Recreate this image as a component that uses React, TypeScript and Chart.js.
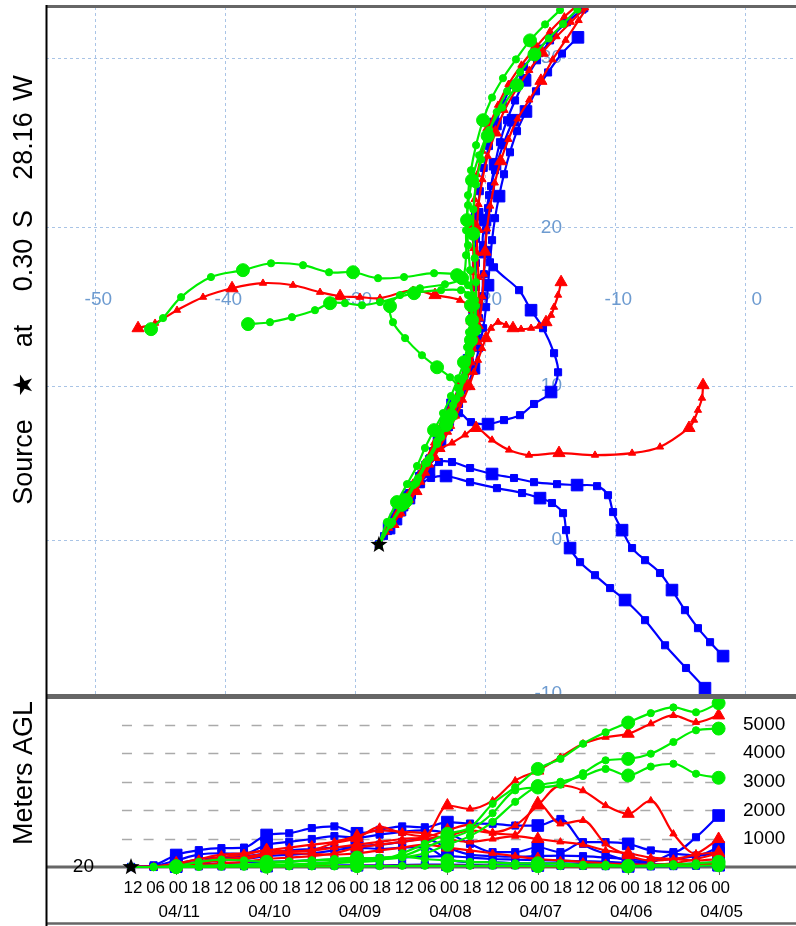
import React, { useEffect, useRef } from "react";
import { Chart, registerables } from "chart.js";
Chart.register(...registerables);

// ---------- source / axes ----------
const SOURCE_LON = -28.16;
const SOURCE_LAT = -0.3;
const SOURCE_HGT = 20;
const STEP_HOURS = 6;

const LON_GRID = [-50, -40, -30, -20, -10, 0];
const LAT_GRID = [-10, 0, 10, 20, 30];
const HEIGHT_TICKS = [1000, 2000, 3000, 4000, 5000];
const HOUR_LABELS = ["12","06","00","18","12","06","00","18","12","06","00","18","12","06","00","18","12","06","00","18","12","06","00","18","12","06","00"];
const DATE_LABELS = ["04/11", "04/10", "04/09", "04/08", "04/07", "04/06", "04/05"];
const DATE_TICK_INDEX = [2, 6, 10, 14, 18, 22, 26];

// ---------- trajectories (lon, lat, height AGL every 6 h backward) ----------
// green
const lonG1 = [-28.16,-27.15,-26.08,-25.23,-24.38,-23.62,-22.92,-22.31,-21.77,-21.38,-21.08,-20.85,-20.77,-21.31,-22.15,-23.92,-26.23,-28.23,-30.15,-32.0,-34.0,-36.46,-38.62,-41.08,-43.38,-44.77,-45.69];
const latG1 = [-0.3,1.18,2.55,3.91,5.22,6.52,7.81,9.1,10.38,11.66,12.94,14.21,15.47,16.41,17.04,17.16,16.92,16.85,17.22,17.22,17.66,17.78,17.35,16.92,15.66,14.34,13.64];
const hgtG1 = [20,20,50,200,280,250,200,220,250,280,300,350,380,300,250,200,180,150,150,150,100,100,60,80,120,150,200];

const lonG2 = [-28.16,-27.54,-26.77,-26.0,-25.23,-24.62,-23.92,-23.23,-22.62,-22.08,-21.62,-21.38,-21.23,-21.08,-21.08,-21.31,-21.85,-23.38,-25.46,-28.08,-29.46,-30.77,-31.92,-33.08,-34.85,-36.54,-38.23];
const latG2 = [-0.3,1.18,2.48,3.65,4.83,6.0,7.16,8.26,9.36,10.5,11.53,12.49,13.45,14.34,15.15,15.79,16.1,16.1,15.91,15.35,15.15,15.28,15.28,14.84,14.4,14.08,13.96];
const hgtG2 = [20,20,20,20,30,30,30,40,40,40,50,50,60,60,60,60,60,60,50,50,50,40,40,40,50,60,80];

const lonG3 = [-28.16,-27.23,-26.23,-25.31,-24.46,-23.69,-23.0,-22.46,-22.08,-22.69,-23.69,-24.85,-26.15,-27.08,-27.31,-26.54,-25.0,-23.08,-21.77,-21.46,-21.46,-21.31,-21.0,-20.46,-19.69,-18.69,-17.54];
const latG3 = [-0.3,1.11,2.42,3.72,5.03,6.26,7.49,8.78,9.87,10.57,11.21,11.98,13.07,14.08,15.09,15.79,16.22,16.47,16.85,18.28,19.82,21.35,22.86,24.35,25.84,27.16,28.45];
const hgtG3 = [20,20,30,50,80,100,150,200,250,300,350,300,350,500,800,1100,1600,2300,2850,3000,3200,3450,3220,3530,3630,3280,3140];

const lonGN1 = [-28.16,-27.15,-26.15,-25.15,-24.23,-23.38,-22.62,-21.92,-21.46,-21.15,-21.0,-21.0,-21.15,-21.31,-21.38,-21.31,-21.08,-20.69,-20.15,-19.46,-18.62,-17.62,-16.54,-15.38,-14.23,-13.08,-11.92];
const latGN1 = [-0.3,1.18,2.61,4.04,5.35,6.71,8.13,9.55,11.02,12.62,14.21,15.79,17.35,18.9,20.44,21.96,23.46,24.95,26.42,27.74,28.85,29.92,30.99,31.88,32.67,33.5,34.3];
const hgtGN1 = [20,20,30,40,50,60,80,100,120,150,200,250,500,830,1180,1400,2230,2810,3450,3800,4330,4730,5070,5400,5600,5430,5750];

const lonGN2 = [-28.16,-27.3,-26.4,-25.5,-24.6,-23.7,-22.9,-22.2,-21.6,-21.1,-20.8,-20.7,-20.7,-20.8,-20.9,-20.9,-20.7,-20.3,-19.8,-19.1,-18.3,-17.3,-16.2,-15.1,-14.0,-12.9,-11.8];
const latGN2 = [-0.3,1.0,2.3,3.6,5.0,6.4,7.8,9.2,10.6,12.1,13.6,15.1,16.6,18.1,19.6,21.1,22.6,24.1,25.5,26.9,28.1,29.2,30.2,31.1,31.9,32.7,33.4];
const hgtGN2 = [20,20,30,40,50,60,80,100,150,200,250,300,400,700,1000,1300,1900,2700,2800,2900,3300,3750,3800,3980,4390,4800,4860];

// red
const lonR1 = [-28.16,-27.31,-26.38,-25.54,-24.69,-23.92,-23.15,-22.46,-21.92,-21.46,-21.15,-20.92,-21.0,-21.92,-23.85,-25.54,-28.08,-29.62,-31.15,-32.69,-34.77,-37.08,-39.46,-41.69,-43.69,-45.38,-46.69];
const latR1 = [-0.3,1.11,2.42,3.72,5.03,6.33,7.62,8.91,10.19,11.47,12.75,13.89,14.84,15.47,15.79,16.1,15.6,15.66,15.72,15.97,16.41,16.54,16.22,15.66,14.84,14.02,13.7];
const hgtR1 = [20,20,20,30,30,40,40,50,50,50,60,60,60,70,70,60,60,50,50,40,40,40,50,60,80,100,150];

const lonR2 = [-28.16,-27.38,-26.62,-25.85,-25.08,-24.31,-23.54,-22.85,-22.23,-21.69,-21.23,-20.85,-20.54,-20.23,-19.92,-19.54,-19.0,-18.38,-17.85,-17.23,-16.46,-15.85,-15.31,-14.92,-14.69,-14.38,-14.15];
const latR2 = [-0.3,0.78,1.83,2.87,3.91,4.96,6.0,7.03,8.07,9.1,10.0,10.89,11.66,12.42,13.07,13.7,14.08,13.89,13.7,13.64,13.7,13.83,14.08,14.52,15.03,15.79,16.6];
const hgtR2 = [20,20,40,80,150,200,300,350,400,500,700,800,900,1000,1100,1300,1200,1150,2250,1530,1650,830,430,245,300,480,1000];

const lonR3 = [-28.16,-27.62,-27.08,-26.62,-26.23,-25.77,-25.31,-24.92,-24.54,-24.23,-23.92,-23.46,-22.54,-21.54,-20.69,-19.46,-18.15,-16.62,-14.31,-11.54,-8.69,-6.54,-4.31,-3.92,-3.62,-3.31,-3.23];
const latR3 = [-0.3,0.52,1.05,1.63,2.22,2.61,3.2,3.78,4.37,4.9,5.42,5.94,6.33,6.85,7.3,6.52,5.87,5.54,5.67,5.54,5.67,6.07,7.3,7.81,8.45,9.23,10.06];
const hgtR3 = [20,30,80,150,300,350,500,550,600,700,800,900,1000,1060,1300,1500,1240,1470,2170,2870,2690,2170,1880,2340,1180,480,530];

const lonRN1 = [-28.16,-27.2,-26.2,-25.2,-24.3,-23.4,-22.6,-21.9,-21.3,-20.9,-20.6,-20.5,-20.5,-20.6,-20.6,-20.5,-20.2,-19.8,-19.2,-18.5,-17.6,-16.6,-15.6,-14.5,-13.4,-12.3,-11.2];
const latRN1 = [-0.3,1.1,2.5,3.9,5.3,6.7,8.1,9.5,10.9,12.4,13.9,15.4,16.9,18.4,19.9,21.4,22.9,24.3,25.7,27.0,28.2,29.3,30.3,31.2,32.0,32.8,33.5];
const hgtRN1 = [20,30,100,200,380,440,610,560,610,860,1030,1420,1200,1100,2170,2050,2340,3040,3390,3860,4330,4560,4680,5030,5320,5080,5320];

const lonRN2 = [-28.16,-27.1,-26.0,-25.0,-24.1,-23.3,-22.6,-22.0,-21.5,-21.2,-21.0,-20.9,-20.9,-20.9,-20.9,-20.8,-20.6,-20.2,-19.7,-19.0,-18.2,-17.2,-16.1,-15.0,-13.9,-12.8,-11.7];
const latRN2 = [-0.3,1.2,2.7,4.2,5.7,7.1,8.5,9.9,11.3,12.7,14.2,15.7,17.2,18.7,20.2,21.7,23.2,24.6,26.0,27.3,28.5,29.6,30.6,31.5,32.3,33.0,33.7];
const hgtRN2 = [20,20,60,150,250,300,450,500,480,450,500,600,700,800,700,600,500,400,300,250,200,150,120,100,150,300,500];

const lonRN3 = [-28.16,-27.25,-26.3,-25.35,-24.45,-23.6,-22.8,-22.1,-21.5,-21.05,-20.7,-20.4,-20.2,-20.1,-20.0,-19.85,-19.6,-19.25,-18.8,-18.2,-17.5,-16.6,-15.7,-14.8,-13.8,-12.8,-11.8];
const latRN3 = [-0.3,1.0,2.3,3.6,4.9,6.2,7.5,8.8,10.1,11.5,12.9,14.3,15.7,17.1,18.5,19.9,21.3,22.7,24.0,25.3,26.5,27.6,28.7,29.9,31.0,32.1,33.2];
const hgtRN3 = [20,40,150,300,450,500,600,700,800,900,1100,1300,1250,1200,1000,900,1000,1100,1000,900,800,600,500,350,300,250,300];

// blue
const lonB1 = [-28.16,-27.46,-26.85,-26.23,-25.62,-25.0,-24.31,-23.54,-22.54,-21.15,-19.46,-17.77,-16.23,-14.46,-12.92,-11.38,-10.54,-10.15,-9.46,-8.69,-7.69,-6.54,-5.62,-4.62,-3.62,-2.69,-1.69];
const latB1 = [-0.3,0.59,1.37,2.15,2.93,3.65,4.44,5.09,5.09,4.7,4.31,4.05,3.78,3.65,3.59,3.52,2.93,1.83,0.65,-0.52,-1.31,-2.15,-3.26,-4.57,-5.74,-6.65,-7.55];
const hgtB1 = [20,30,100,200,250,300,400,450,500,600,700,650,700,710,300,190,190,150,150,150,140,120,100,100,100,150,190];

const lonB2 = [-28.16,-27.77,-27.38,-27.0,-26.62,-26.23,-25.85,-25.38,-24.92,-24.15,-23.0,-21.15,-19.08,-17.15,-15.77,-14.85,-14.0,-13.77,-13.46,-12.69,-11.54,-10.38,-9.23,-7.69,-6.15,-4.54,-3.08];
const latB2 = [-0.3,0.26,0.78,1.31,1.83,2.29,2.74,3.26,3.65,4.05,4.18,3.78,3.39,3.07,2.74,2.42,1.76,0.65,-0.52,-1.44,-2.29,-3.13,-3.91,-5.22,-6.85,-8.32,-9.62];
const hgtB2 = [20,20,30,40,40,50,50,60,60,70,80,80,90,100,100,90,80,80,70,60,60,50,40,40,50,60,80];

const lonB3 = [-28.16,-27.38,-26.62,-25.85,-25.08,-24.31,-23.54,-22.77,-22.0,-21.08,-19.77,-18.54,-17.31,-16.23,-14.92,-14.38,-14.69,-15.54,-16.46,-17.38,-19.31,-20.15,-20.0,-19.69,-19.23,-18.62,-17.85];
const latB3 = [-0.3,0.85,1.96,3.07,4.18,5.28,6.39,7.36,8.26,7.68,7.55,7.81,8.13,8.85,9.62,10.89,12.11,13.7,14.84,16.1,17.53,18.9,20.44,21.96,23.46,24.95,26.42];
const hgtB3 = [20,50,250,450,500,480,800,900,1000,1100,1050,1150,1250,1300,1200,830,540,540,710,540,890,890,830,600,540,1060,1820];

const lonBN1 = [-28.16,-27.31,-26.38,-25.46,-24.62,-23.77,-23.0,-22.31,-21.69,-21.15,-20.77,-20.46,-20.23,-20.08,-20.0,-19.92,-19.77,-19.54,-19.23,-18.85,-18.31,-17.69,-16.92,-16.0,-15.0,-13.85,-12.54];
const latBN1 = [-0.3,0.98,2.29,3.59,4.9,6.2,7.49,8.78,10.06,11.53,12.94,14.34,15.72,17.1,18.47,19.82,21.17,22.5,23.82,25.13,26.42,27.57,28.73,29.87,30.99,32.0,32.9];
const hgtBN1 = [20,80,440,610,680,700,1140,1200,1380,1440,1200,1320,1440,1410,1590,1540,1530,1470,1470,1700,830,480,245,190,480,420,710];

const lonBN2 = [-28.16,-27.0,-25.9,-24.9,-24.0,-23.2,-22.5,-21.9,-21.4,-21.0,-20.8,-20.7,-20.7,-20.7,-20.6,-20.4,-20.1,-19.7,-19.2,-18.6,-17.9,-17.0,-16.0,-14.9,-13.7,-12.5,-11.3];
const latBN2 = [-0.3,1.3,2.8,4.3,5.8,7.3,8.8,10.3,11.8,13.3,14.8,16.3,17.8,19.3,20.8,22.2,23.6,24.9,26.2,27.4,28.5,29.5,30.4,31.2,32.0,32.7,33.4];
const hgtBN2 = [20,30,120,300,350,400,500,600,650,700,750,800,900,1000,700,450,400,380,400,420,400,350,300,250,300,400,500];

const lonBN3 = [-28.16,-27.38,-26.54,-25.77,-25.0,-24.23,-23.46,-22.69,-22.0,-21.38,-20.85,-20.46,-20.15,-19.92,-19.77,-19.62,-19.46,-19.23,-18.92,-18.54,-18.08,-17.54,-16.85,-16.08,-15.15,-14.08,-12.85];
const latBN3 = [-0.3,0.85,1.96,3.07,4.18,5.35,6.52,7.68,8.85,10.0,11.15,12.43,13.7,15.03,16.41,17.84,19.21,20.56,21.9,23.22,24.53,25.78,26.93,28.1,29.18,30.25,31.16];
const hgtBN3 = [20,20,60,120,150,180,200,220,250,280,300,320,350,380,400,350,300,280,260,240,220,200,160,120,100,90,100];

// ---------- styles ----------
const RED = "#ff0000";
const BLUE = "#0000ff";
const GREEN = "#00ee00";
const GRID_BLUE = "#a9c4e6";
const LABEL_BLUE = "#6d9bd0";
const FRAME_GRAY = "#666666";
const FONT = '"Liberation Sans", Arial, Helvetica, sans-serif';

type Track = { lon: number[]; lat: number[]; hgt: number[]; color: string; style: string };
// index 0 is drawn on top
const TRACKS: Track[] = [
  { lon: lonGN1, lat: latGN1, hgt: hgtGN1, color: GREEN, style: "circle" },
  { lon: lonGN2, lat: latGN2, hgt: hgtGN2, color: GREEN, style: "circle" },
  { lon: lonG1, lat: latG1, hgt: hgtG1, color: GREEN, style: "circle" },
  { lon: lonG2, lat: latG2, hgt: hgtG2, color: GREEN, style: "circle" },
  { lon: lonG3, lat: latG3, hgt: hgtG3, color: GREEN, style: "circle" },
  { lon: lonRN1, lat: latRN1, hgt: hgtRN1, color: RED, style: "triangle" },
  { lon: lonRN2, lat: latRN2, hgt: hgtRN2, color: RED, style: "triangle" },
  { lon: lonRN3, lat: latRN3, hgt: hgtRN3, color: RED, style: "triangle" },
  { lon: lonR1, lat: latR1, hgt: hgtR1, color: RED, style: "triangle" },
  { lon: lonR2, lat: latR2, hgt: hgtR2, color: RED, style: "triangle" },
  { lon: lonR3, lat: latR3, hgt: hgtR3, color: RED, style: "triangle" },
  { lon: lonBN1, lat: latBN1, hgt: hgtBN1, color: BLUE, style: "rect" },
  { lon: lonBN2, lat: latBN2, hgt: hgtBN2, color: BLUE, style: "rect" },
  { lon: lonBN3, lat: latBN3, hgt: hgtBN3, color: BLUE, style: "rect" },
  { lon: lonB1, lat: latB1, hgt: hgtB1, color: BLUE, style: "rect" },
  { lon: lonB2, lat: latB2, hgt: hgtB2, color: BLUE, style: "rect" },
  { lon: lonB3, lat: latB3, hgt: hgtB3, color: BLUE, style: "rect" },
];

const RADII: Record<string, [number, number]> = {
  circle: [3.6, 6.5],
  triangle: [4.2, 7],
  rect: [5, 8.2],
};

const merc = (lat: number) => Math.log(Math.tan(Math.PI / 4 + (lat * Math.PI) / 360));

function radii(style: string, n: number) {
  const [s, b] = RADII[style];
  const out: number[] = [];
  for (let i = 0; i < n; i++) out.push(i % 4 === 2 ? b : s);
  return out;
}

function drawStar(ctx: CanvasRenderingContext2D, cx: number, cy: number, r: number) {
  ctx.save();
  ctx.beginPath();
  for (let k = 0; k < 10; k++) {
    const rr = k % 2 === 0 ? r : r * 0.42;
    const a = -Math.PI / 2 + (k * Math.PI) / 5;
    const px = cx + rr * Math.cos(a);
    const py = cy + rr * Math.sin(a);
    if (k === 0) ctx.moveTo(px, py);
    else ctx.lineTo(px, py);
  }
  ctx.closePath();
  ctx.fillStyle = "#000";
  ctx.fill();
  ctx.restore();
}

function vText(ctx: CanvasRenderingContext2D, text: string, baseX: number, cy: number) {
  ctx.save();
  ctx.translate(baseX, cy);
  ctx.rotate(-Math.PI / 2);
  ctx.textAlign = "center";
  ctx.textBaseline = "alphabetic";
  ctx.fillText(text, 0, 0);
  ctx.restore();
}

const LON_LABEL_LAT = 15.5;
const LAT_LABEL_LON = -14.08;

const mapPlugin = {
  id: "mapDecor",
  beforeDatasetsDraw(chart: any) {
    const { ctx, chartArea: a, scales } = chart;
    const x = scales.x, y = scales.y;
    ctx.save();
    ctx.beginPath();
    ctx.rect(a.left, a.top, a.right - a.left, a.bottom - a.top);
    ctx.clip();
    ctx.strokeStyle = GRID_BLUE;
    ctx.lineWidth = 1;
    ctx.setLineDash([3, 3]);
    LON_GRID.forEach((lon) => {
      const px = Math.round(x.getPixelForValue(lon)) + 0.5;
      ctx.beginPath();
      ctx.moveTo(px, a.top);
      ctx.lineTo(px, a.bottom);
      ctx.stroke();
    });
    LAT_GRID.forEach((lat) => {
      const py = Math.round(y.getPixelForValue(merc(lat))) + 0.5;
      ctx.beginPath();
      ctx.moveTo(a.left, py);
      ctx.lineTo(a.right, py);
      ctx.stroke();
    });
    ctx.restore();
    ctx.save();
    ctx.fillStyle = LABEL_BLUE;
    ctx.font = "19px " + FONT;
    ctx.textAlign = "right";
    ctx.textBaseline = "middle";
    const ly = y.getPixelForValue(merc(LON_LABEL_LAT));
    LON_GRID.forEach((lon) => ctx.fillText(String(lon), x.getPixelForValue(lon) + 17, ly));
    const lx = x.getPixelForValue(LAT_LABEL_LON);
    LAT_GRID.forEach((lat) => ctx.fillText(String(lat), lx, y.getPixelForValue(merc(lat))));
    ctx.restore();
  },
  afterDatasetsDraw(chart: any) {
    const { ctx, chartArea: a, scales, width, height } = chart;
    drawStar(ctx, scales.x.getPixelForValue(SOURCE_LON), scales.y.getPixelForValue(merc(SOURCE_LAT)), 9);
    ctx.save();
    ctx.strokeStyle = FRAME_GRAY;
    ctx.lineWidth = 3;
    ctx.beginPath();
    ctx.moveTo(a.left, a.top - 0.5);
    ctx.lineTo(width, a.top - 0.5);
    ctx.stroke();
    ctx.beginPath();
    ctx.moveTo(a.left, height - 1.5);
    ctx.lineTo(width, height - 1.5);
    ctx.stroke();
    ctx.strokeStyle = "#000";
    ctx.lineWidth = 2;
    ctx.beginPath();
    ctx.moveTo(a.left + 0.5, a.top - 2);
    ctx.lineTo(a.left + 0.5, height);
    ctx.stroke();
    ctx.fillStyle = "#000";
    ctx.font = "27px " + FONT;
    vText(ctx, "Source", 32, 462);
    vText(ctx, "\u2605", 32, 385);
    vText(ctx, "at", 32, 336);
    vText(ctx, "0.30", 32, 265);
    vText(ctx, "S", 32, 219);
    vText(ctx, "28.16", 32, 146);
    vText(ctx, "W", 32, 88);
    ctx.restore();
  },
};

const GRID_HOUR_START = -2.4;
const GRID_HOUR_END = 157;

const hgtPlugin = {
  id: "hgtDecor",
  beforeDatasetsDraw(chart: any) {
    const { ctx, chartArea: a, scales, width } = chart;
    const x = scales.x, y = scales.y;
    ctx.save();
    ctx.strokeStyle = "#aaaaaa";
    ctx.lineWidth = 1.5;
    ctx.setLineDash([10, 11.6]);
    HEIGHT_TICKS.forEach((h) => {
      const py = Math.round(y.getPixelForValue(h)) + 0.5;
      ctx.beginPath();
      ctx.moveTo(x.getPixelForValue(GRID_HOUR_START), py);
      ctx.lineTo(x.getPixelForValue(GRID_HOUR_END), py);
      ctx.stroke();
    });
    ctx.setLineDash([]);
    ctx.strokeStyle = FRAME_GRAY;
    ctx.lineWidth = 3;
    const by = y.getPixelForValue(SOURCE_HGT);
    ctx.beginPath();
    ctx.moveTo(a.left, by);
    ctx.lineTo(width, by);
    ctx.stroke();
    ctx.lineWidth = 1;
    DATE_TICK_INDEX.forEach((i) => {
      const px = Math.round(x.getPixelForValue(i * STEP_HOURS)) + 0.5;
      ctx.beginPath();
      ctx.moveTo(px, by + 2);
      ctx.lineTo(px, by + 8);
      ctx.stroke();
    });
    ctx.restore();
  },
  afterDatasetsDraw(chart: any) {
    const { ctx, chartArea: a, scales, width, height } = chart;
    const x = scales.x, y = scales.y;
    const by = y.getPixelForValue(SOURCE_HGT);
    drawStar(ctx, x.getPixelForValue(0), by, 9);
    ctx.save();
    ctx.strokeStyle = FRAME_GRAY;
    ctx.lineWidth = 3;
    ctx.beginPath();
    ctx.moveTo(a.left, 0.5);
    ctx.lineTo(width, 0.5);
    ctx.stroke();
    ctx.lineWidth = 2.5;
    ctx.beginPath();
    ctx.moveTo(a.left, height - 2.5);
    ctx.lineTo(width, height - 2.5);
    ctx.stroke();
    ctx.strokeStyle = "#000";
    ctx.lineWidth = 2;
    ctx.beginPath();
    ctx.moveTo(a.left + 0.5, 0);
    ctx.lineTo(a.left + 0.5, height);
    ctx.stroke();

    ctx.fillStyle = "#000";
    ctx.font = "19px " + FONT;
    ctx.textBaseline = "middle";
    ctx.textAlign = "left";
    HEIGHT_TICKS.forEach((h) => ctx.fillText(String(h), 743, y.getPixelForValue(h)));
    ctx.textAlign = "right";
    ctx.fillText(String(SOURCE_HGT), 94, by);

    ctx.font = "17px " + FONT;
    ctx.textAlign = "center";
    HOUR_LABELS.forEach((lab, i) => ctx.fillText(lab, x.getPixelForValue(i * STEP_HOURS) + 2, by + 21));
    DATE_LABELS.forEach((lab, k) => ctx.fillText(lab, x.getPixelForValue(DATE_TICK_INDEX[k] * STEP_HOURS) + 3, by + 45));

    ctx.font = "27px " + FONT;
    vText(ctx, "Meters AGL", 32, 773 - 697);
    ctx.restore();
  },
};

export default function App() {
  const mapRef = useRef<HTMLCanvasElement | null>(null);
  const hgtRef = useRef<HTMLCanvasElement | null>(null);

  useEffect(() => {
    if (!mapRef.current || !hgtRef.current) return;
    const mapSets = TRACKS.map((t) => ({
      data: t.lon.map((lon, i) => ({ x: lon, y: merc(t.lat[i]) })),
      borderColor: t.color,
      backgroundColor: t.color,
      pointBackgroundColor: t.color,
      pointBorderColor: t.color,
      pointBorderWidth: 1,
      pointStyle: t.style,
      pointRadius: radii(t.style, t.lon.length),
      borderWidth: 2.2,
      tension: 0.35,
      fill: false,
    }));
    const mapChart = new Chart(mapRef.current, {
      type: "line",
      data: { datasets: mapSets as any },
      options: {
        animation: false,
        responsive: false,
        maintainAspectRatio: false,
        events: [],
        layout: { autoPadding: false, padding: { left: 46, top: 7, right: 0, bottom: 2 } },
        plugins: { legend: { display: false }, tooltip: { enabled: false }, title: { display: false } },
        scales: {
          x: { type: "linear", display: false, min: -53.77, max: 3.92 },
          y: { type: "linear", display: false, min: merc(-10.06), max: merc(32.84) },
        },
      },
      plugins: [mapPlugin],
    });

    const hgtSets = TRACKS.map((t) => ({
      data: t.hgt.map((h, i) => ({ x: i * STEP_HOURS, y: h })),
      borderColor: t.color,
      backgroundColor: t.color,
      pointBackgroundColor: t.color,
      pointBorderColor: t.color,
      pointBorderWidth: 1,
      pointStyle: t.style,
      pointRadius: radii(t.style, t.hgt.length),
      borderWidth: 2.2,
      cubicInterpolationMode: "monotone",
      fill: false,
      clip: false,
    }));
    const hgtChart = new Chart(hgtRef.current, {
      type: "line",
      data: { datasets: hgtSets as any },
      options: {
        animation: false,
        responsive: false,
        maintainAspectRatio: false,
        events: [],
        layout: { autoPadding: false, padding: { left: 46, top: 0, right: 0, bottom: 59 } },
        plugins: { legend: { display: false }, tooltip: { enabled: false }, title: { display: false } },
        scales: {
          x: { type: "linear", display: false, min: -22.57, max: 176.55 },
          y: { type: "linear", display: false, min: SOURCE_HGT, max: 5964 },
        },
      },
      plugins: [hgtPlugin],
    });
    return () => {
      mapChart.destroy();
      hgtChart.destroy();
    };
  }, []);

  return (
    <div style={{ position: "absolute", left: 0, top: 0, width: 796, height: 926, overflow: "hidden", background: "#fff" }}>
      <canvas ref={mapRef} width={796} height={697} style={{ position: "absolute", left: 0, top: 0, width: 796, height: 697 }} />
      <canvas ref={hgtRef} width={796} height={229} style={{ position: "absolute", left: 0, top: 697, width: 796, height: 229 }} />
    </div>
  );
}
